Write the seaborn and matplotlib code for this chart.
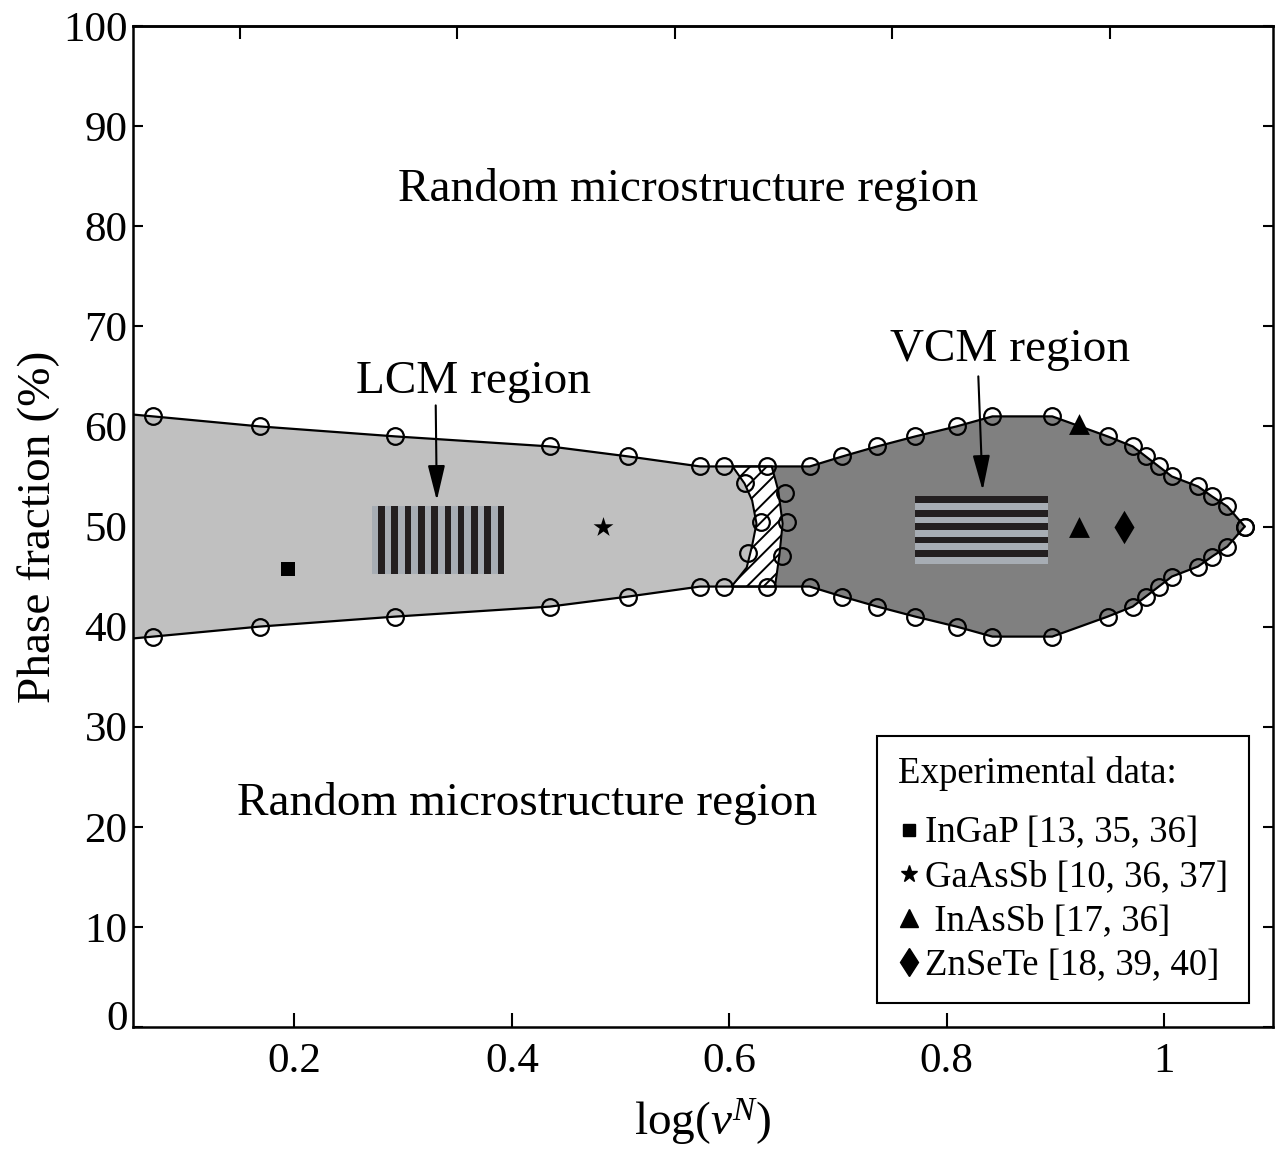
import numpy as np
import pandas as pd
import matplotlib
matplotlib.use("Agg")
import matplotlib.pyplot as plt
import matplotlib.transforms as mtransforms
from matplotlib.lines import Line2D
import seaborn as sns

# ---- data ----
# LCM (light grey) boundary, left part
lcm_x = [0.04, 0.07, 0.168, 0.293, 0.435, 0.507, 0.573, 0.595]
lcm_upper = [61.3, 61, 60, 59, 58, 57, 56, 56]
lcm_lower = [38.7, 39, 40, 41, 42, 43, 44, 44]

# VCM (dark grey) boundary, right part
vcm_x = [0.635, 0.674, 0.704, 0.736, 0.771, 0.809, 0.842, 0.897, 0.948,
         0.971, 0.983, 0.995, 1.007, 1.031, 1.044, 1.058, 1.074]
vcm_upper = [56, 56, 57, 58, 59, 60, 61, 61, 59, 58, 57, 56, 55, 54, 53, 52, 50]
vcm_lower = [44, 44, 43, 42, 41, 40, 39, 39, 41, 42, 43, 44, 45, 46, 47, 48, 50]

# transition (hatched) crescent
left_arc_x = [0.603, 0.614, 0.621, 0.625, 0.621, 0.616, 0.602]
left_arc_y = [56, 54.3, 52.6, 50.3, 48.1, 45.9, 44]
right_arc_x = [0.639, 0.645, 0.649, 0.646, 0.642]
right_arc_y = [56, 53.6, 50.3, 47.1, 44]
mid_cx = [0.614, 0.629, 0.617, 0.651, 0.653, 0.648]
mid_cy = [54.3, 50.4, 47.4, 53.3, 50.4, 47.1]

# experimental points
materials = ["InGaP [13, 35, 36]", "GaAsSb [10, 36, 37]", " InAsSb [17, 36]",
             " InAsSb [17, 36]", "ZnSeTe [18, 39, 40]"]
exp_x = [0.194, 0.484, 0.922, 0.922, 0.963]
exp_y = [45.8, 50, 60.2, 50, 50]
legend_labels = ["InGaP [13, 35, 36]", "GaAsSb [10, 36, 37]", " InAsSb [17, 36]",
                 "ZnSeTe [18, 39, 40]"]
marker_map = {"InGaP [13, 35, 36]": "s", "GaAsSb [10, 36, 37]": "*",
              " InAsSb [17, 36]": "^", "ZnSeTe [18, 39, 40]": "d"}
marker_size = {"s": 10, "*": 15, "^": 15, "d": 17}

# striped icons (x0, x1, y0, y1)
lcm_box = (0.271, 0.393, 45.3, 52.0)
vcm_box = (0.771, 0.893, 46.3, 53.0)

xticks = [0.2, 0.4, 0.6, 0.8, 1.0]
xticklabels = ["0.2", "0.4", "0.6", "0.8", "1"]
top_ticks = [0.15, 0.35, 0.55, 0.75, 0.95]
yticks = list(range(0, 101, 10))

# ---- style ----
sns.set_theme(style="ticks")
plt.rcParams["font.family"] = ["Liberation Serif", "DejaVu Serif"]
plt.rcParams["mathtext.fontset"] = "custom"
plt.rcParams["mathtext.rm"] = "Liberation Serif"
plt.rcParams["mathtext.it"] = "Liberation Serif:italic"
plt.rcParams["hatch.linewidth"] = 1.4
plt.rcParams["hatch.color"] = "black"
for key in ["text.color", "axes.labelcolor", "xtick.color", "ytick.color",
            "axes.edgecolor"]:
    plt.rcParams[key] = "black"

LIGHT = "#c0c0c0"
DARK = "#808080"
STRIPE_D = "#231f20"
STRIPE_L = "#a7adb4"

fig = plt.figure(figsize=(12.81, 11.5), dpi=100)
ax = fig.add_axes([133 / 1281, 1 - 1027 / 1150, 1140 / 1281, 1001 / 1150])

# filled regions
ax.fill(lcm_x + left_arc_x + lcm_x[::-1],
        lcm_upper + left_arc_y + lcm_lower[::-1],
        color=LIGHT, lw=0, zorder=1)
ax.fill(right_arc_x + vcm_x + vcm_x[::-1],
        right_arc_y + vcm_lower + vcm_upper[::-1],
        color=DARK, lw=0, zorder=1)
ax.fill(left_arc_x + right_arc_x[::-1], left_arc_y + right_arc_y[::-1],
        facecolor="white", edgecolor="black", hatch="//", lw=1.5, zorder=2)

# striped icons
x0, x1, y0, y1 = lcm_box
edges = np.linspace(x0, x1, 21)
for i in range(20):
    ax.bar(edges[i], y1 - y0, width=edges[i + 1] - edges[i], bottom=y0,
           align="edge", color=STRIPE_L if i % 2 == 0 else STRIPE_D, lw=0, zorder=3)
x0, x1, y0, y1 = vcm_box
edges = np.linspace(y1, y0, 11)
for i in range(10):
    ax.bar(x0, edges[i + 1] - edges[i], width=x1 - x0, bottom=edges[i],
           align="edge", color=STRIPE_D if i % 2 == 0 else STRIPE_L, lw=0, zorder=3)

# boundary lines
line_kw = dict(color="black", lw=1.6, sort=False, estimator=None, zorder=4, ax=ax)
sns.lineplot(x=lcm_x + vcm_x, y=lcm_upper + vcm_upper, **line_kw)
sns.lineplot(x=lcm_x + vcm_x, y=lcm_lower + vcm_lower, **line_kw)

# open circles
circ_kw = dict(ls="none", marker="o", markersize=12, mfc="none", mec="black",
               mew=1.6, sort=False, estimator=None, zorder=5, ax=ax)
sns.lineplot(x=lcm_x[1:] + vcm_x, y=lcm_upper[1:] + vcm_upper, **circ_kw)
sns.lineplot(x=lcm_x[1:] + vcm_x, y=lcm_lower[1:] + vcm_lower, **circ_kw)
sns.lineplot(x=mid_cx, y=mid_cy, **circ_kw)

# experimental data
exp = pd.DataFrame({"x": exp_x, "y": exp_y, "material": materials})
for mat, grp in exp.groupby("material", sort=False):
    m = marker_map[mat]
    sns.scatterplot(data=grp, x="x", y="y", marker=m, s=marker_size[m] ** 2,
                    color="black", edgecolor="black", linewidth=0, zorder=6,
                    legend=False, ax=ax)

# annotations
ax.text(0.562, 83.7, "Random microstructure region", fontsize=34, ha="center", va="center")
ax.text(0.414, 22.3, "Random microstructure region", fontsize=34, ha="center", va="center")
ax.text(0.365, 64.5, "LCM region", fontsize=34, ha="center", va="center")
ax.text(0.858, 67.7, "VCM region", fontsize=34, ha="center", va="center")
arrow = dict(arrowstyle="-|>,head_length=0.9,head_width=0.22", color="black",
             lw=1.5, mutation_scale=24, shrinkA=0, shrinkB=0)
ax.annotate("", xy=(0.331, 52.6), xytext=(0.330, 62.1), arrowprops=arrow, zorder=7)
ax.annotate("", xy=(0.833, 53.6), xytext=(0.829, 65.0), arrowprops=arrow, zorder=7)

# legend
handles = [Line2D([], [], ls="none", marker=marker_map[l], color="black",
                  markersize=marker_size[marker_map[l]] * 0.85) for l in legend_labels]
leg = ax.legend(handles, legend_labels, title="Experimental data:",
                loc="lower left", bbox_to_anchor=(0.653, 0.024), borderaxespad=0,
                frameon=True, fancybox=False, edgecolor="black", framealpha=1,
                fontsize=26.5, title_fontsize=26.5, handlelength=0.6,
                handletextpad=0.15, labelspacing=0.26, borderpad=0.55,
                alignment="left")
leg._legend_box.sep = 18
leg.get_frame().set_linewidth(1.5)
leg.set_zorder(10)

# axes
ax.set_xlim(0.0516, 1.1)
ax.set_ylim(0, 100)
ax.set_xticks(xticks)
ax.set_xticklabels(xticklabels)
ax.set_yticks(yticks)
ax.tick_params(axis="x", direction="in", length=10, width=1.5, labelsize=31, pad=11)
ax.tick_params(axis="y", direction="in", length=7.5, width=1.5, labelsize=31, pad=4,
               right=True)
# the "0" label sits a little above its tick, as in the original
zero_lbl = ax.get_yticklabels()[0]
zero_lbl.set_transform(zero_lbl.get_transform() +
                       mtransforms.ScaledTranslation(0, 0.12, fig.dpi_scale_trans))
sec = ax.secondary_xaxis("top")
sec.set_xticks(top_ticks)
sec.set_xticklabels([])
sec.tick_params(direction="in", length=9, width=1.5)
for s in list(ax.spines.values()) + list(sec.spines.values()):
    s.set_linewidth(1.8)
    s.set_color("black")

ax.set_xlabel(r"log($\mathit{v}^{\mathit{N}}$)", fontsize=34, labelpad=12)
ax.set_ylabel("Phase fraction (%)", fontsize=34, labelpad=2)

fig.savefig("out.png", dpi=100)
